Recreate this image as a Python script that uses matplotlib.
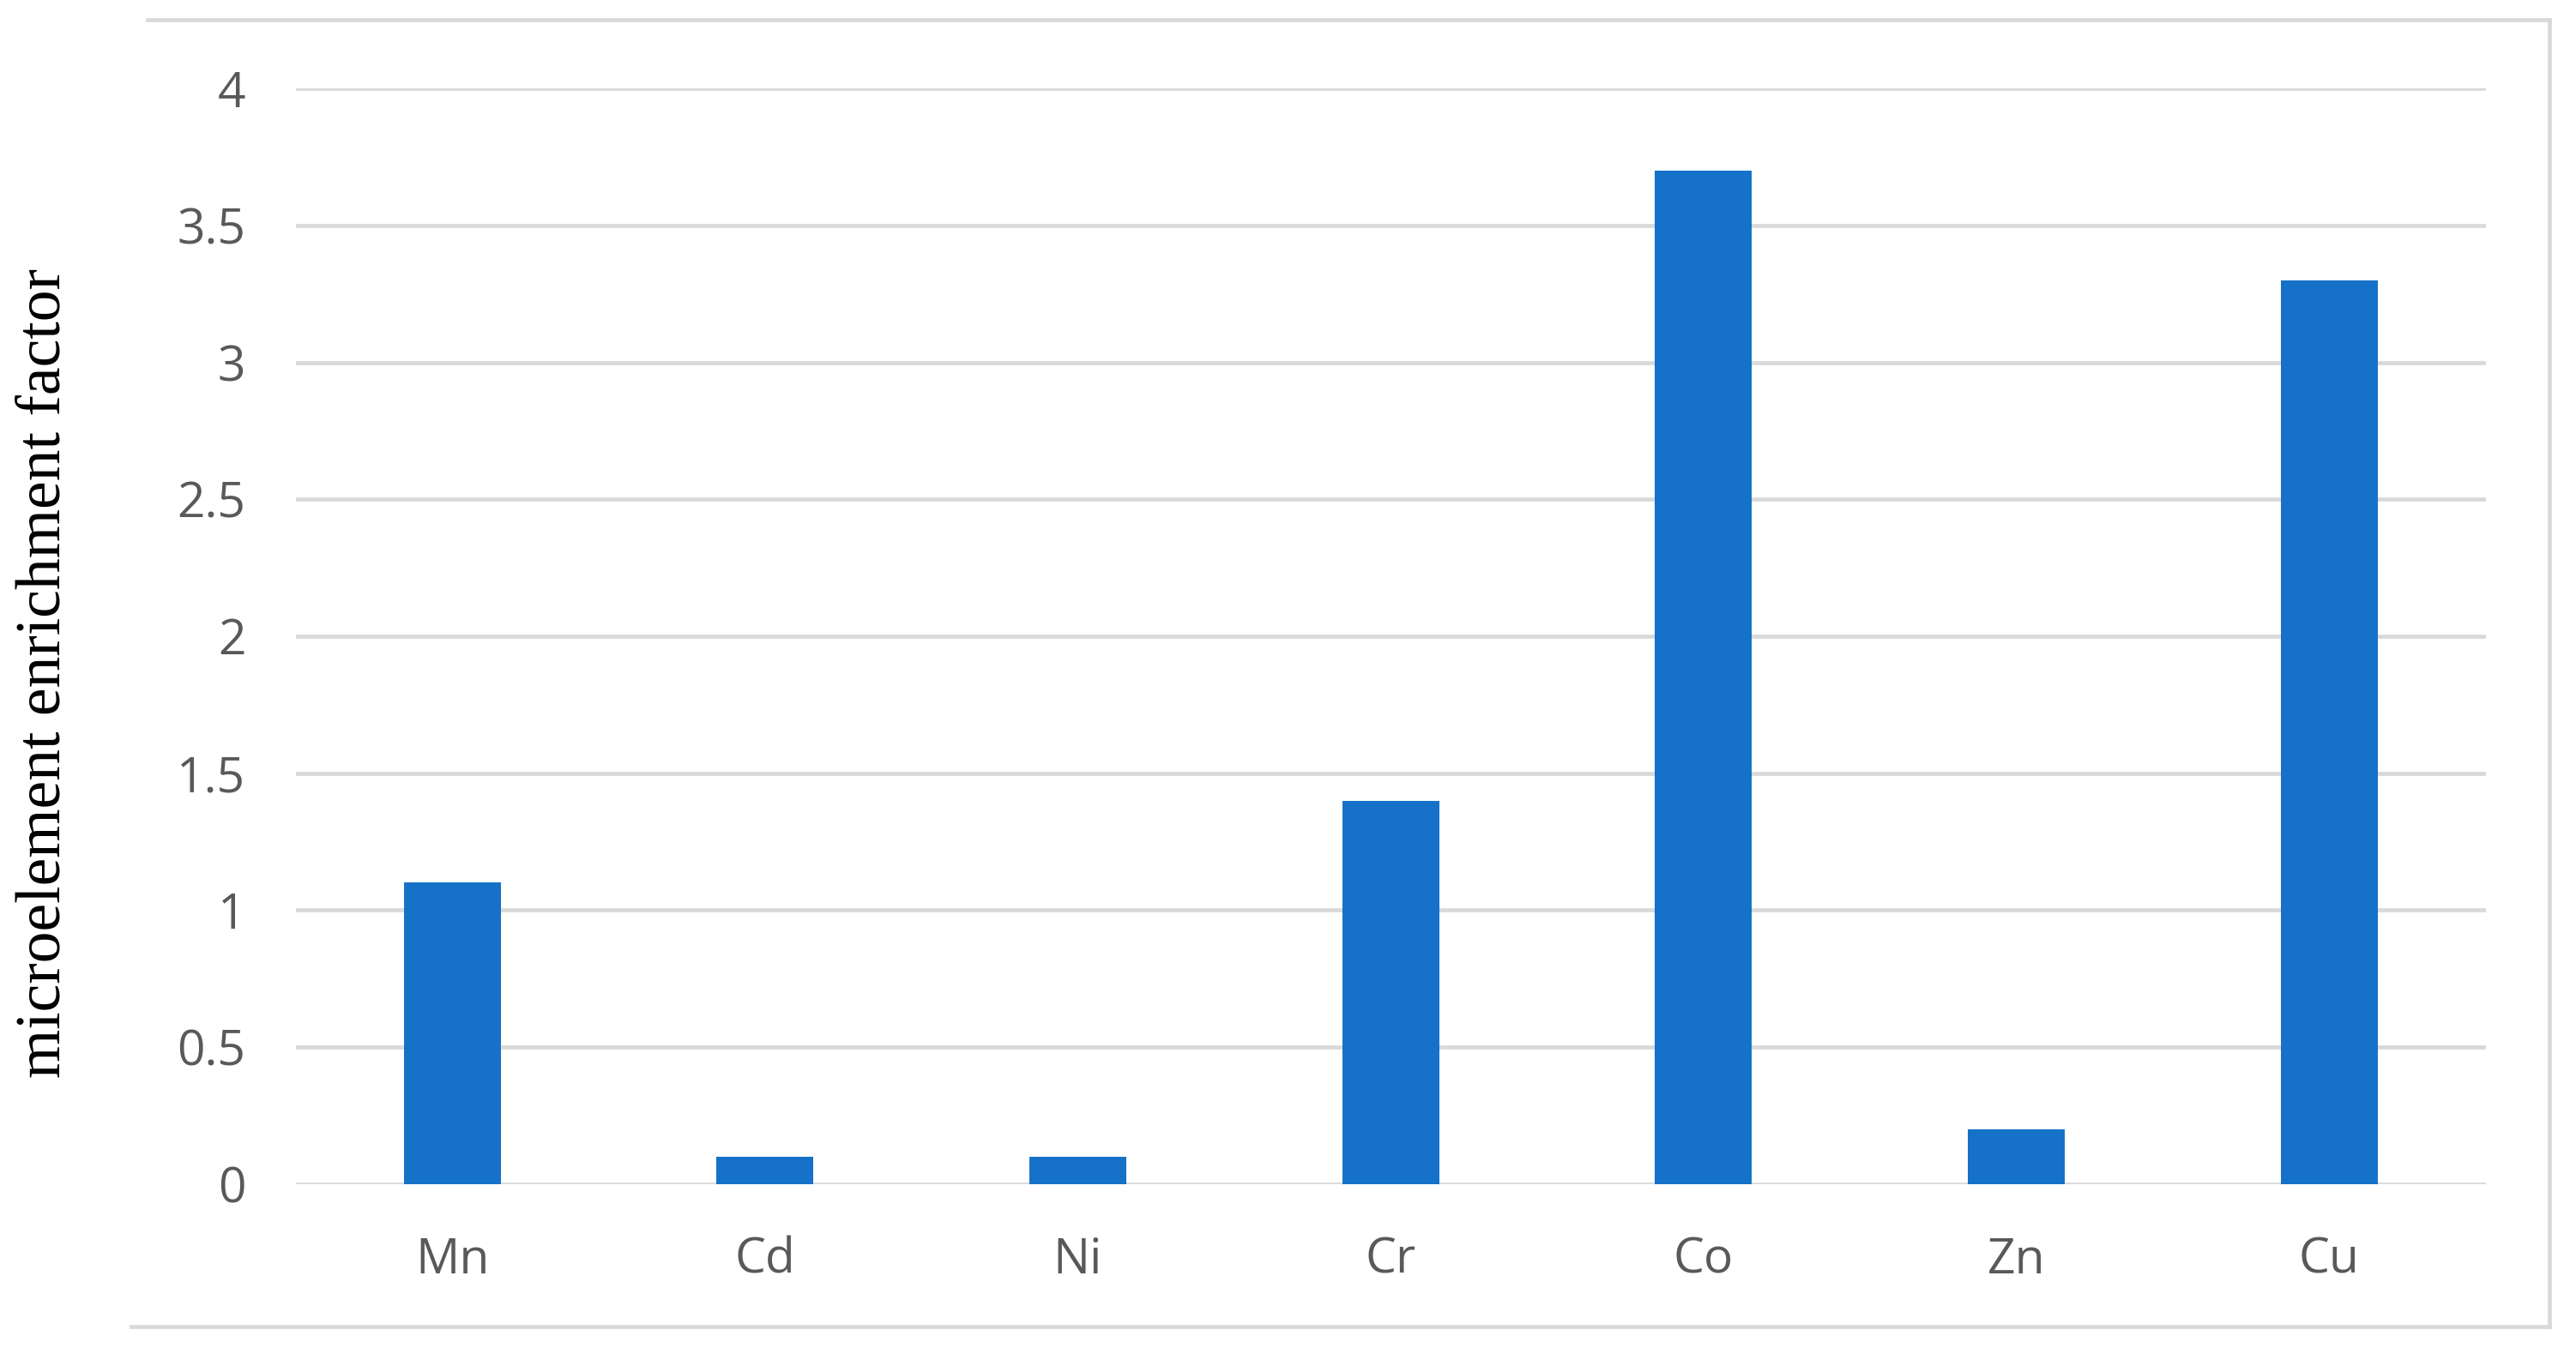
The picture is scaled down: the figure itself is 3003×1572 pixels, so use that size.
import matplotlib
matplotlib.use("Agg")
import matplotlib.pyplot as plt
from matplotlib.lines import Line2D

elements = ["Mn", "Cd", "Ni", "Cr", "Co", "Zn", "Cu"]
enrichment = [1.1, 0.1, 0.1, 1.4, 3.7, 0.2, 3.3]
y_ticks = [0, 0.5, 1, 1.5, 2, 2.5, 3, 3.5, 4]
y_tick_labels = ["0", "0.5", "1", "1.5", "2", "2.5", "3", "3.5", "4"]

W, H = 1568, 821
fig = plt.figure(figsize=(30.03, 15.72), dpi=100)
fig.patch.set_facecolor("white")

ax = fig.add_axes([180 / W, 1 - 721 / H, (1513 - 180) / W, (721 - 54) / H])
x = list(range(len(elements)))
ax.bar(x, enrichment, width=0.31, color="#1572C8", zorder=3)
ax.set_xlim(-0.5, len(elements) - 0.5)
ax.set_ylim(0, 4)
ax.set_yticks(y_ticks)
ax.set_yticklabels(y_tick_labels)
ax.set_xticks(x)
ax.set_xticklabels(elements)
ax.yaxis.grid(True, color="#D9D9D9", linewidth=3.4, zorder=0)
ax.set_axisbelow(True)
for s in ax.spines.values():
    s.set_visible(False)
ax.tick_params(axis="both", length=0, labelsize=41, labelcolor="#595959")
ax.tick_params(axis="y", pad=42)
ax.tick_params(axis="x", pad=44)
for lab in ax.get_xticklabels() + ax.get_yticklabels():
    lab.set_family("Open Sans")

fig.text(27 / W, 1 - 410 / H, "microelement enrichment factor", rotation=90,
         ha="center", va="center", fontsize=53, family="Liberation Serif", color="black")

fc = "#D9D9D9"
lw = 3.4
fig.add_artist(Line2D([90 / W, 1552 / W], [1 - 12 / H, 1 - 12 / H], color=fc, lw=lw))
fig.add_artist(Line2D([80 / W, 1552 / W], [1 - 808 / H, 1 - 808 / H], color=fc, lw=lw))
fig.add_artist(Line2D([1552 / W, 1552 / W], [1 - 12 / H, 1 - 808 / H], color=fc, lw=lw))

fig.savefig("out.png", dpi=100, facecolor="white")
